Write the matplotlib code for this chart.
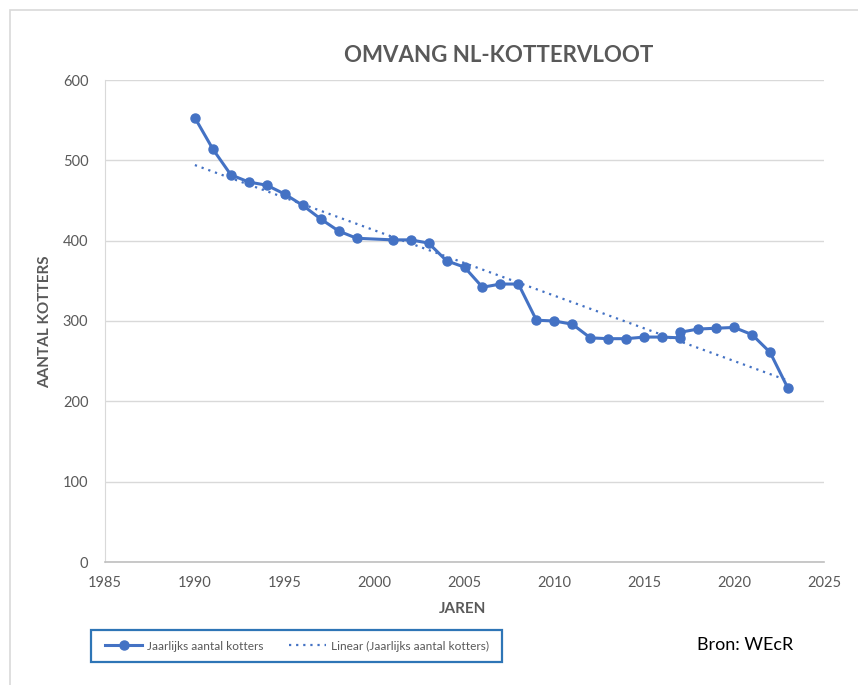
import matplotlib.pyplot as plt
from matplotlib.patches import Rectangle
import numpy as np

plt.rcParams['font.family'] = ['Lato', 'DejaVu Sans']

# jaarlijks aantal kotters (2000 ontbreekt, 2017 twee keer)
jaren = [1990, 1991, 1992, 1993, 1994, 1995, 1996, 1997, 1998, 1999,
         2001, 2002, 2003, 2004, 2005, 2006, 2007, 2008, 2009, 2010,
         2011, 2012, 2013, 2014, 2015, 2016, 2017, 2017, 2018, 2019,
         2020, 2021, 2022, 2023]
kotters = [553, 514, 482, 473, 469, 458, 444, 427, 412, 403,
           401, 401, 397, 375, 367, 342, 346, 346, 301, 300,
           296, 279, 278, 278, 280, 280, 279, 286, 290, 291,
           292, 283, 261, 216]

x_ticks = [1985, 1990, 1995, 2000, 2005, 2010, 2015, 2020, 2025]
y_ticks = [0, 100, 200, 300, 400, 500, 600]

blue = '#4472C4'
grey_txt = '#595959'
W, H = 858, 685

fig = plt.figure(figsize=(W / 100, H / 100), dpi=100)
ax = fig.add_axes([105 / W, 1 - 562 / H, (824 - 105) / W, (562 - 80) / H])

# buitenrand van de grafiek
fig.patches.append(Rectangle((10 / W, -0.1), 1.2, 1 - 10 / H + 0.1,
                             transform=fig.transFigure, fill=False,
                             edgecolor='#D9D9D9', linewidth=1.2))

ax.plot(jaren, kotters, color=blue, linewidth=2.2, marker='o',
        markersize=6.5, label='Jaarlijks aantal kotters', zorder=3)

# lineaire trendlijn
coef = np.polyfit(jaren, kotters, 1)
tx = np.array([jaren[0], jaren[-1]])
ax.plot(tx, np.polyval(coef, tx), color=blue, linewidth=1.6,
        linestyle=(0, (1, 2.2)), label='Linear (Jaarlijks aantal kotters)', zorder=2)

ax.set_xlim(1985, 2025)
ax.set_ylim(0, 600)
ax.set_xticks(x_ticks)
ax.set_yticks(y_ticks)
ax.grid(axis='y', color='#D9D9D9', linewidth=1)
ax.set_axisbelow(True)
for s in ['top', 'right']:
    ax.spines[s].set_visible(False)
ax.spines['left'].set_color('#D9D9D9')
ax.spines['bottom'].set_color('#BFBFBF')
ax.spines['bottom'].set_linewidth(1.2)
ax.tick_params(length=0, labelsize=10.5, labelcolor=grey_txt)
ax.tick_params(axis='x', pad=10)
ax.tick_params(axis='y', pad=12)

fig.text(499 / W, 1 - 55 / H, 'OMVANG NL-KOTTERVLOOT', ha='center', va='center',
         fontsize=16, fontweight='bold', color=grey_txt)
fig.text(45 / W, 1 - 322 / H, 'AANTAL KOTTERS', rotation=90, ha='center', va='center',
         fontsize=11, fontweight='bold', color=grey_txt)
fig.text(463 / W, 1 - 609 / H, 'JAREN', ha='center', va='center',
         fontsize=11, fontweight='bold', color=grey_txt)

# legenda met blauwe rand
fig.patches.append(Rectangle((91 / W, 1 - 662 / H), (502 - 91) / W, 32 / H,
                             transform=fig.transFigure, fill=False,
                             edgecolor='#2E75B6', linewidth=1.6))
leg = fig.legend(loc='center', ncol=2, bbox_to_anchor=(297 / W, 1 - 646 / H),
                 frameon=False, fontsize=8.6, handlelength=3.1,
                 handletextpad=0.35, columnspacing=2.2, borderpad=0)
for t in leg.get_texts():
    t.set_color(grey_txt)

fig.text(697 / W, 1 - 645 / H, 'Bron: WEcR', ha='left', va='center',
         fontsize=13, color='black')

fig.savefig('out.png', dpi=100, facecolor='white')
